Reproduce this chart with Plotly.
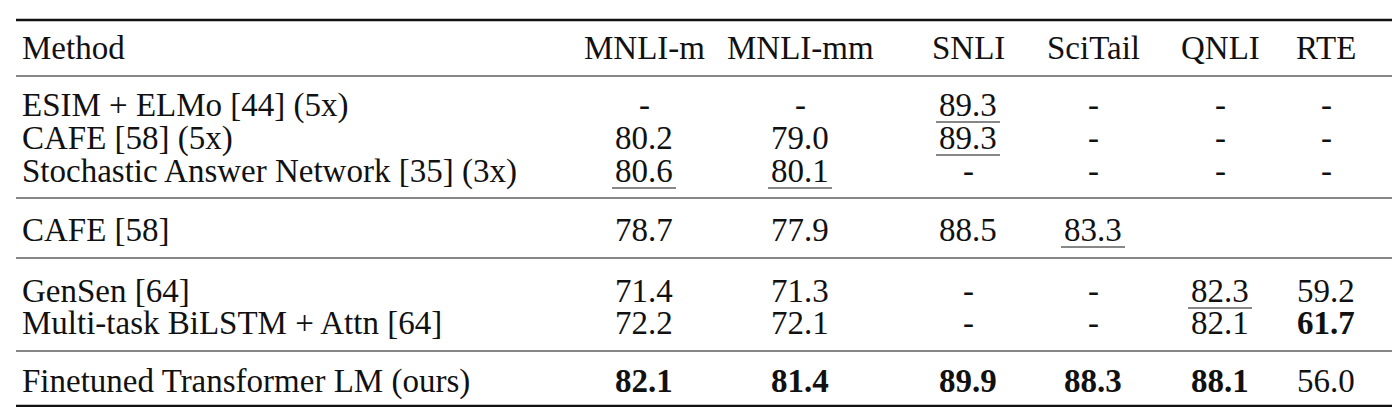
import plotly.graph_objects as go

columns = ["Method", "MNLI-m", "MNLI-mm", "SNLI", "SciTail", "QNLI", "RTE"]
methods = ["ESIM + ELMo [44] (5x)", "CAFE [58] (5x)", "Stochastic Answer Network [35] (3x)",
           "CAFE [58]", "GenSen [64]", "Multi-task BiLSTM + Attn [64]",
           "Finetuned Transformer LM (ours)"]
mnli_m = ["-", "80.2", "80.6", "78.7", "71.4", "72.2", "82.1"]
mnli_mm = ["-", "79.0", "80.1", "77.9", "71.3", "72.1", "81.4"]
snli = ["89.3", "89.3", "-", "88.5", "-", "-", "89.9"]
scitail = ["-", "-", "-", "83.3", "-", "-", "88.3"]
qnli = ["-", "-", "-", "", "82.3", "82.1", "88.1"]
rte = ["-", "-", "-", "", "59.2", "61.7", "56.0"]
# (row, col) flags
underlined = [(0, 3), (1, 3), (2, 1), (2, 2), (3, 4), (4, 5)]
bold = [(6, 1), (6, 2), (6, 3), (6, 4), (6, 5), (5, 6)]

series = [mnli_m, mnli_mm, snli, scitail, qnli, rte]

col_x = [12, 636, 792, 960, 1085, 1212, 1318]
row_y = [97, 130, 163, 222, 283, 315, 373]
header_y = 40
FONT = dict(family="Liberation Serif, Times New Roman, serif", size=33, color="#111")

fig = go.Figure()
ann = []
shapes = []
for j, c in enumerate(columns):
    ann.append(dict(x=col_x[j], y=header_y, text=c, showarrow=False, font=FONT,
                    xanchor="left" if j == 0 else "center", yanchor="middle"))
for i, m in enumerate(methods):
    ann.append(dict(x=col_x[0], y=row_y[i], text=m, showarrow=False, font=FONT,
                    xanchor="left", yanchor="middle"))
    for j, s in enumerate(series, start=1):
        t = s[i]
        if not t:
            continue
        if (i, j) in bold:
            t = "<b>" + t + "</b>"
        ann.append(dict(x=col_x[j], y=row_y[i], text=t, showarrow=False, font=FONT,
                        xanchor="center", yanchor="middle"))
        if (i, j) in underlined:
            shapes.append(dict(type="line", x0=col_x[j] - 32, x1=col_x[j] + 32,
                               y0=row_y[i] + 17, y1=row_y[i] + 17,
                               line=dict(color="#111", width=1.2)))

for y, w in [(12, 2.5), (68, 1.2), (190, 1.2), (250, 1.2), (343, 1.2), (398, 2.5)]:
    shapes.append(dict(type="line", x0=8, x1=1392, y0=y, y1=y,
                       line=dict(color="#111", width=w)))

fig.update_layout(width=1400, height=407, margin=dict(l=0, r=0, t=0, b=0),
                  paper_bgcolor="white", plot_bgcolor="white",
                  annotations=ann, shapes=shapes, showlegend=False,
                  xaxis=dict(range=[0, 1400], visible=False, fixedrange=True),
                  yaxis=dict(range=[407, 0], visible=False, fixedrange=True))
fig.write_html("out.html")
